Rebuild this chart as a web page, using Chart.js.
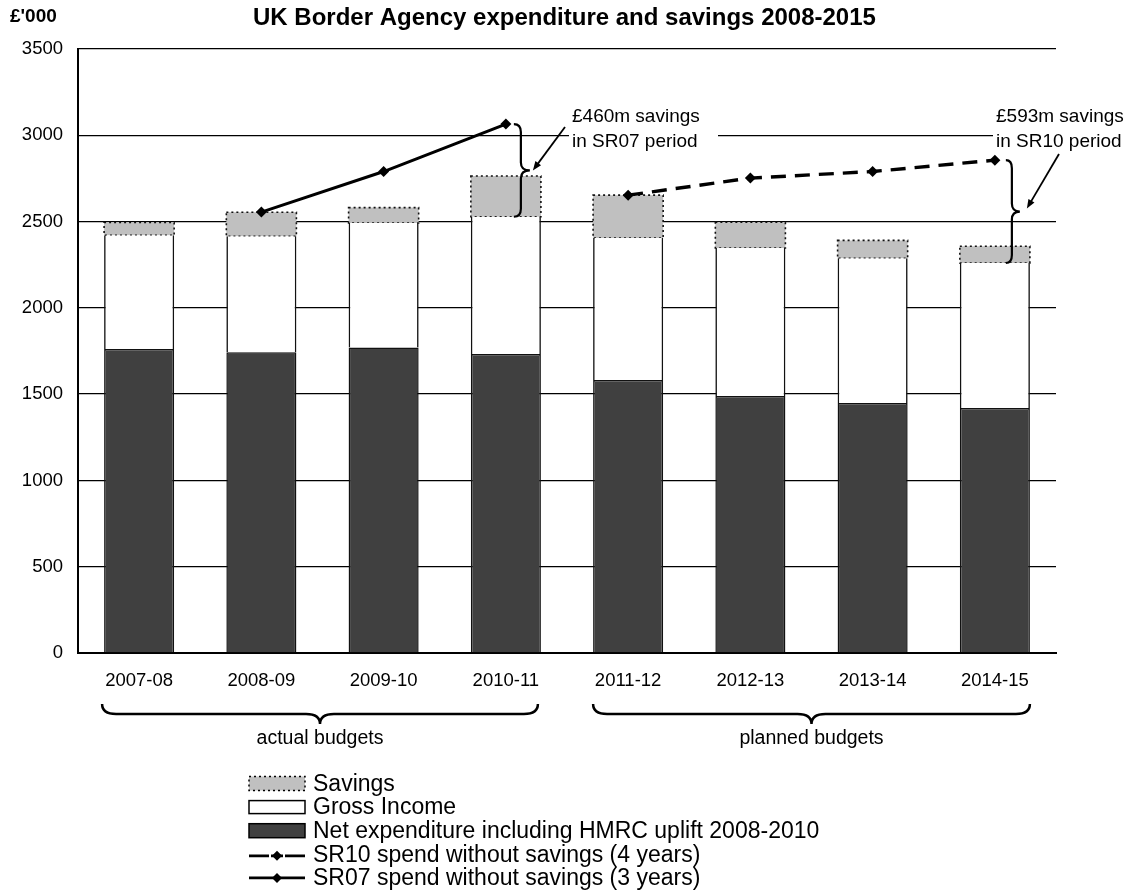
<!DOCTYPE html>
<html>
<head>
<meta charset="utf-8">
<script src="https://cdn.jsdelivr.net/npm/chart.js@4.4.1/dist/chart.umd.min.js"></script>
<style>
  body { margin: 0; background: #fff; }
  #wrap { width: 1132px; height: 890px; }
</style>
</head>
<body>
<div id="wrap"><canvas id="myChart"></canvas></div>
<script>
var FONT = '"Liberation Sans", Arial, sans-serif';

// data (£'000)
var years = ['2007-08', '2008-09', '2009-10', '2010-11', '2011-12', '2012-13', '2013-14', '2014-15'];
var netExpenditure = [1762, 1743, 1770, 1733, 1582, 1489, 1448, 1420];
var grossIncome = [659, 672, 722, 795, 823, 858, 839, 840];
var savings = [74, 139, 89, 236, 248, 149, 104, 97];
var sr07Spend = [null, 2555, 2790, 3065, null, null, null, null];
var sr10Spend = [null, null, null, null, 2653, 2752, 2790, 2856];
var yTicks = [0, 500, 1000, 1500, 2000, 2500, 3000, 3500];

var SAVINGS_INDEX = 4;

function braceV(ctx, x, y1, y2, w, h) {
  // "}" shape: hooks left at both ends, point right in the middle
  var ym = (y1 + y2) / 2;
  var r = Math.min(8, (y2 - y1) / 4);
  ctx.beginPath();
  ctx.moveTo(x - h, y1);
  ctx.quadraticCurveTo(x, y1, x, y1 + r);
  ctx.lineTo(x, ym - r);
  ctx.quadraticCurveTo(x, ym, x + w, ym);
  ctx.quadraticCurveTo(x, ym, x, ym + r);
  ctx.lineTo(x, y2 - r);
  ctx.quadraticCurveTo(x, y2, x - h, y2);
  ctx.stroke();
}

function braceH(ctx, x1, x2, y, d, h) {
  var xm = (x1 + x2) / 2, r = 14;
  ctx.beginPath();
  ctx.moveTo(x1, y - h);
  ctx.quadraticCurveTo(x1, y, x1 + r, y);
  ctx.lineTo(xm - r, y);
  ctx.quadraticCurveTo(xm, y, xm, y + d);
  ctx.quadraticCurveTo(xm, y, xm + r, y);
  ctx.lineTo(x2 - r, y);
  ctx.quadraticCurveTo(x2, y, x2, y - h);
  ctx.stroke();
}

function arrow(ctx, x1, y1, x2, y2) {
  var a = Math.atan2(y2 - y1, x2 - x1), len = 9, wid = 3.5;
  ctx.beginPath();
  ctx.moveTo(x1, y1);
  ctx.lineTo(x2 - Math.cos(a) * len * 0.8, y2 - Math.sin(a) * len * 0.8);
  ctx.stroke();
  ctx.beginPath();
  ctx.moveTo(x2, y2);
  ctx.lineTo(x2 - Math.cos(a) * len - Math.sin(a) * wid, y2 - Math.sin(a) * len + Math.cos(a) * wid);
  ctx.lineTo(x2 - Math.cos(a) * len + Math.sin(a) * wid, y2 - Math.sin(a) * len - Math.cos(a) * wid);
  ctx.closePath();
  ctx.fill();
}

function diamond(ctx, x, y, r) {
  ctx.beginPath();
  ctx.moveTo(x, y - r);
  ctx.lineTo(x + r, y);
  ctx.lineTo(x, y + r);
  ctx.lineTo(x - r, y);
  ctx.closePath();
  ctx.fill();
}

var extras = {
  id: 'extras',
  beforeDatasetsDraw: function (chart) {
    // white boxes behind the annotation text, they cut the 3000 gridline
    var ctx = chart.ctx;
    ctx.save();
    ctx.fillStyle = '#fff';
    ctx.fillRect(569, 104, 149, 52);
    ctx.fillRect(993, 104, 139, 52);
    ctx.restore();
  },
  afterDatasetDraw: function (chart, args) {
    if (args.index !== SAVINGS_INDEX) return;
    var ctx = chart.ctx;
    ctx.save();
    ctx.strokeStyle = '#111';
    ctx.lineWidth = 1.6;
    ctx.setLineDash([2, 3]);
    args.meta.data.forEach(function (bar) {
      var l = bar.x - bar.width / 2, t = Math.min(bar.y, bar.base);
      ctx.strokeRect(l, t, bar.width, Math.abs(bar.base - bar.y));
    });
    ctx.restore();
  },
  afterDraw: function (chart) {
    var ctx = chart.ctx;
    var xs = chart.scales.x, ys = chart.scales.y;
    var bars = chart.getDatasetMeta(SAVINGS_INDEX).data;
    ctx.save();
    ctx.fillStyle = '#000';
    ctx.strokeStyle = '#000';

    // title and unit
    ctx.textBaseline = 'middle';
    ctx.textAlign = 'left';
    ctx.font = 'bold 24px ' + FONT;
    ctx.fillText('UK Border Agency expenditure and savings 2008-2015', 253, 18);
    ctx.font = 'bold 19px ' + FONT;
    ctx.fillText("£'000", 10, 17);

    // braces for the savings in each period
    ctx.lineWidth = 2.2;
    var i = 3;
    var bx = xs.getPixelForValue(i) + 15;
    var y1 = ys.getPixelForValue(sr07Spend[i]);
    var y2 = ys.getPixelForValue(netExpenditure[i] + grossIncome[i]);
    braceV(ctx, bx, y1, y2, 9, 7);
    ctx.lineWidth = 1.8;
    arrow(ctx, 565, 127, bx + 12, (y1 + y2) / 2);

    i = 7;
    ctx.lineWidth = 2.2;
    bx = xs.getPixelForValue(i) + 17;
    y1 = ys.getPixelForValue(sr10Spend[i]);
    y2 = ys.getPixelForValue(netExpenditure[i] + grossIncome[i]);
    braceV(ctx, bx, y1, y2, 8, 6);
    ctx.lineWidth = 1.8;
    arrow(ctx, 1059, 154, bx + 15, (y1 + y2) / 2 - 3);

    ctx.font = '19px ' + FONT;
    ctx.fillText('£460m savings', 572, 117);
    ctx.fillText('in SR07 period', 572, 142);
    ctx.fillText('£593m savings', 996, 117);
    ctx.fillText('in SR10 period', 996, 142);

    // bottom braces: actual / planned budgets
    ctx.lineWidth = 2.5;
    var a1 = bars[0].x - bars[0].width / 2 - 2, a2 = bars[3].x + bars[3].width / 2 - 3;
    var p1 = bars[4].x - bars[4].width / 2, p2 = bars[7].x + bars[7].width / 2;
    braceH(ctx, a1, a2, 714, 10, 10);
    braceH(ctx, p1, p2, 714, 10, 10);
    ctx.textAlign = 'center';
    ctx.font = '19.5px ' + FONT;
    ctx.fillText('actual budgets', (a1 + a2) / 2, 739);
    ctx.fillText('planned budgets', (p1 + p2) / 2, 739);

    // legend
    var lx = 249, lw = 56, tx = 313, y0 = 783.5, step = 23.6;
    ctx.textAlign = 'left';
    ctx.font = '23px ' + FONT;

    ctx.fillStyle = '#c0c0c0';
    ctx.fillRect(lx, y0 - 7, lw, 14);
    ctx.lineWidth = 1.5;
    ctx.setLineDash([2, 3]);
    ctx.strokeRect(lx, y0 - 7, lw, 14);
    ctx.setLineDash([]);

    var y = y0 + step;
    ctx.fillStyle = '#fff';
    ctx.fillRect(lx, y - 6.5, lw, 13);
    ctx.strokeRect(lx, y - 6.5, lw, 13);

    y = y0 + step * 2;
    ctx.fillStyle = '#404040';
    ctx.fillRect(lx, y - 7, lw, 14);
    ctx.strokeRect(lx, y - 7, lw, 14);

    ctx.fillStyle = '#000';
    ctx.lineWidth = 2.8;
    y = y0 + step * 3 + 1.5;
    ctx.beginPath();
    ctx.moveTo(lx, y); ctx.lineTo(lx + 20, y);
    ctx.moveTo(lx + 36, y); ctx.lineTo(lx + lw, y);
    ctx.moveTo(lx + 22, y); ctx.lineTo(lx + 34, y);
    ctx.stroke();
    diamond(ctx, lx + 28, y, 5);

    y = y0 + step * 4;
    ctx.beginPath();
    ctx.moveTo(lx, y); ctx.lineTo(lx + lw, y);
    ctx.stroke();
    diamond(ctx, lx + 28, y, 5);

    var labels = ['Savings', 'Gross Income', 'Net expenditure including HMRC uplift 2008-2010',
      'SR10 spend without savings (4 years)', 'SR07 spend without savings (3 years)'];
    labels.forEach(function (t, k) {
      ctx.fillText(t, tx, y0 + step * k + 1);
    });
    ctx.restore();
  }
};

var ctx = document.getElementById('myChart');
var chart = new Chart(ctx, {
  type: 'bar',
  data: {
    labels: years,
    datasets: [{
      type: 'line',
      label: 'SR10 spend without savings (4 years)',
      data: sr10Spend,
      stack: 'sr10',
      borderColor: '#000',
      borderWidth: 3.4,
      borderDash: [15, 9],
      pointStyle: 'rectRot',
      pointRadius: 5.5,
      pointBackgroundColor: '#000',
      pointBorderColor: '#000',
      pointBorderWidth: 0,
      spanGaps: false
    }, {
      type: 'line',
      label: 'SR07 spend without savings (3 years)',
      data: sr07Spend,
      stack: 'sr07',
      borderColor: '#000',
      borderWidth: 3,
      pointStyle: 'rectRot',
      pointRadius: 5.5,
      pointBackgroundColor: '#000',
      pointBorderColor: '#000',
      pointBorderWidth: 0,
      spanGaps: false
    }, {
      label: 'Net expenditure including HMRC uplift 2008-2010',
      data: netExpenditure,
      stack: 'budget',
      backgroundColor: '#404040',
      borderColor: '#111',
      borderWidth: 1.5,
      borderSkipped: 'start'
    }, {
      label: 'Gross Income',
      data: grossIncome,
      stack: 'budget',
      backgroundColor: '#fff',
      borderColor: '#111',
      borderWidth: { left: 1.6, right: 1.6, top: 0, bottom: 0 }
    }, {
      label: 'Savings',
      data: savings,
      stack: 'budget',
      backgroundColor: '#c0c0c0',
      borderWidth: 0
    }]
  },
  options: {
    responsive: true,
    maintainAspectRatio: false,
    animation: false,
    layout: { padding: { left: 0, right: 76, top: 49, bottom: 0 } },
    plugins: {
      legend: { display: false },
      tooltip: { enabled: false },
      title: { display: false }
    },
    datasets: { bar: { categoryPercentage: 1, barPercentage: 0.573 } },
    scales: {
      x: {
        stacked: true,
        grid: { display: false, drawTicks: false },
        border: { color: '#000', width: 2 },
        ticks: { color: '#000', padding: 17, font: { family: FONT, size: 18.5 } },
        afterFit: function (scale) { scale.height = 237; }
      },
      y: {
        stacked: true,
        min: 0,
        max: 3500,
        grid: { color: '#000', lineWidth: 1.3, drawTicks: false },
        border: { color: '#000', width: 2 },
        ticks: {
          color: '#000', padding: 15, font: { family: FONT, size: 18.5 },
          callback: function (v) { return String(v); }
        },
        afterBuildTicks: function (scale) {
          scale.ticks = yTicks.map(function (v) { return { value: v }; });
        },
        afterFit: function (scale) { scale.width = 78; }
      }
    }
  },
  plugins: [extras]
});
</script>
</body>
</html>
